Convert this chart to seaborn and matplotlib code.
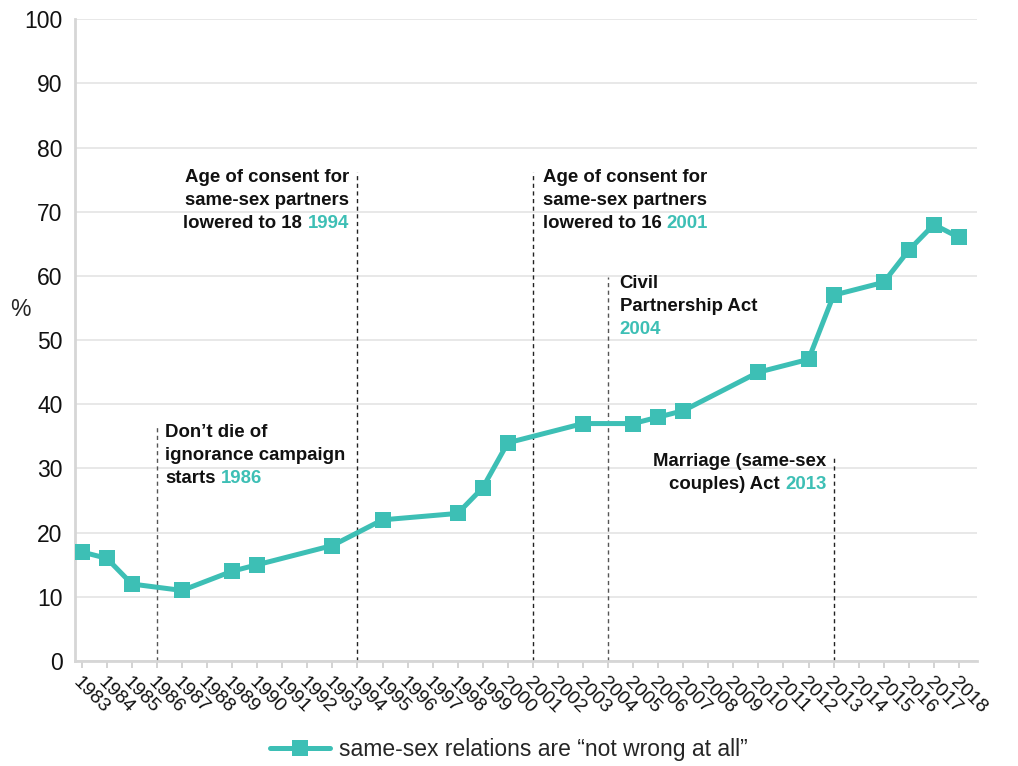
import matplotlib
matplotlib.use("Agg")
import matplotlib.pyplot as plt
from matplotlib.offsetbox import TextArea, VPacker, HPacker, AnnotationBbox
import pandas as pd
import seaborn as sns

# share saying same-sex relations are "not wrong at all" (%)
years = [1983, 1984, 1985, 1987, 1989, 1990, 1993, 1995, 1998, 1999, 2000,
         2003, 2005, 2006, 2007, 2010, 2012, 2013, 2015, 2016, 2017, 2018]
not_wrong = [17, 16, 12, 11, 14, 15, 18, 22, 23, 27, 34,
             37, 37, 38, 39, 45, 47, 57, 59, 64, 68, 66]
tick_years = list(range(1983, 2019))

# events marked with dashed lines
event_years = [1986, 1994, 2001, 2004, 2013]
event_text = [
    ["Don’t die of", "ignorance campaign", "starts"],
    ["Age of consent for", "same-sex partners", "lowered to 18"],
    ["Age of consent for", "same-sex partners", "lowered to 16"],
    ["Civil", "Partnership Act", ""],
    ["Marriage (same-sex", "couples) Act"],
]
series_label = "same-sex relations are “not wrong at all”"

TEAL = "#3dbfb5"

sns.set_style("white")
plt.rcParams["font.family"] = ["Liberation Sans", "DejaVu Sans"]

df = pd.DataFrame({"year": years, "pct": not_wrong})

fig = plt.figure(figsize=(10.18, 7.66), dpi=100)
ax = fig.add_axes([0.0737, 0.137, 0.8857, 0.838])

sns.lineplot(data=df, x="year", y="pct", ax=ax, color=TEAL, linewidth=3.6,
             marker="s", markersize=11, markeredgewidth=0, label=series_label,
             legend=False, zorder=3)

# dashed event lines: (line top, text anchor, alignment, line colour)
layout = [
    (36.8, (1986.32, 37.0), "left", "#555555"),
    (76.2, (1993.66, 76.7), "right", "#222222"),
    (76.2, (2001.39, 76.7), "left", "#222222"),
    (59.8, (2004.46, 60.2), "left", "#555555"),
    (32.1, (2012.72, 32.4), "right", "#222222"),
]

kw = dict(fontsize=13.4, fontweight="bold", color="#111111")
for yr, lines, (top, xy, align, lc) in zip(event_years, event_text, layout):
    ax.vlines(yr, 0, top, colors=lc, linestyles=(0, (3, 2.5)), linewidth=1.0, zorder=2)
    rows = [TextArea(t, textprops=kw) for t in lines[:-1]]
    last = [TextArea(str(yr), textprops=dict(kw, color=TEAL))]
    if lines[-1]:
        last.insert(0, TextArea(lines[-1], textprops=kw))
    rows.append(HPacker(children=last, pad=0, sep=3.8, align="baseline"))
    box = VPacker(children=rows, pad=0, sep=4.5, align=align)
    ab = AnnotationBbox(box, xy, xycoords="data",
                        box_alignment=(0 if align == "left" else 1, 1),
                        frameon=False, pad=0)
    ax.add_artist(ab)

ax.set_xlim(1982.73, 2018.71)
ax.set_ylim(0, 100)
ax.set_yticks(range(0, 101, 10))
ax.set_xticks(tick_years)
ax.set_xticklabels([str(y) for y in tick_years], rotation=-45, ha="left",
                   va="top", rotation_mode="anchor", fontsize=14)
ax.tick_params(axis="y", length=0, labelsize=16.5, pad=9, labelcolor="#111111")
ax.tick_params(axis="x", length=5, width=1.2, color="#cccccc", pad=4,
               labelcolor="#111111", bottom=True)
ax.grid(axis="y", color="#e6e6e6", linewidth=1.3)
ax.set_axisbelow(True)
for s in ["top", "right"]:
    ax.spines[s].set_visible(False)
for s in ["left", "bottom"]:
    ax.spines[s].set_color("#d6d6d6")
    ax.spines[s].set_linewidth(2)

ax.set_xlabel("")
ax.set_ylabel("%", rotation=0, fontsize=16.5, va="center", ha="center")
ax.yaxis.set_label_coords(-0.061, 0.547)

h, l = ax.get_legend_handles_labels()
fig.legend(h, l, loc="center", bbox_to_anchor=(0.5, 0.022), frameon=False,
           fontsize=16.5, handlelength=2.6, handletextpad=0.4)

fig.savefig("out.png", dpi=100)
